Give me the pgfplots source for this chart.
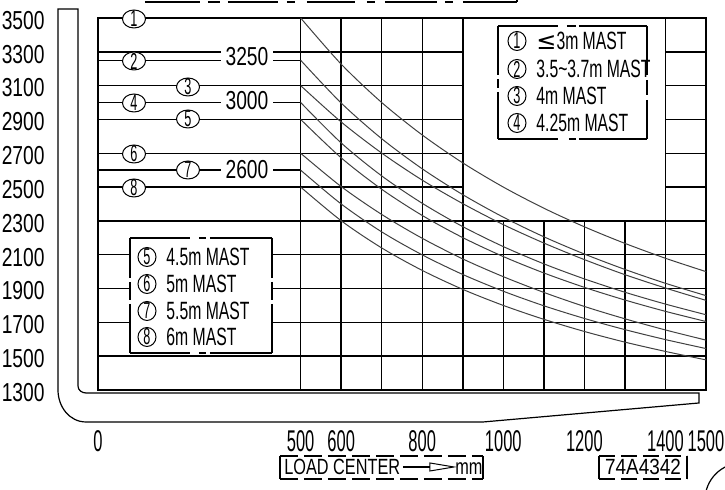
\documentclass[border=0pt]{standalone}
\usepackage{pgfplots}
\pgfplotsset{compat=1.18}
\usepackage{fontspec}
\setmainfont{Liberation Sans}
\newfontfamily\cadfont{Liberation Sans}[FakeStretch=0.63]
\newfontfamily\tickfont{Liberation Sans}[FakeStretch=0.55]
\newfontfamily\numfont{Liberation Sans}[FakeStretch=0.74]
\newfontfamily\widefont{Liberation Sans}[FakeStretch=0.86]
\newfontfamily\symfont{DejaVu Sans}
\newcommand{\df}{\tickfont\fontsize{11.5}{11.5}\selectfont}
\newcommand{\lf}{\cadfont\fontsize{12.5}{12.5}\selectfont}
\newcommand{\vf}{\numfont\fontsize{13}{13}\selectfont}
\begin{document}
\begin{tikzpicture}
\path[use as bounding box] (-49pt,-50pt) rectangle (313.5pt,195pt);
\begin{axis}[at={(0,0)}, anchor=south west, scale only axis,
  width=304pt, height=186pt,
  xmin=0, xmax=1500, ymin=1300, ymax=3500,
  xtick={0,500,600,800,1000,1200,1400,1500},
  xticklabels={0,500,600,800,1000,1200,1400,1500},
  ytick={1300,1500,1700,1900,2100,2300,2500,2700,2900,3100,3300,3500},
  yticklabels={1300,1500,1700,1900,2100,2300,2500,2700,2900,3100,3300,3500},
  major tick length=0pt,
  axis line style={line width=0.75pt},
  xticklabel style={font={\tickfont\fontsize{15}{15}\selectfont}, anchor=north, inner sep=0pt, text depth=0pt, yshift=-20pt},
  yticklabel style={font={\numfont\fontsize{13}{13}\selectfont}, anchor=east, inner sep=0pt, xshift=-26.5pt, yshift=-1.2pt},
  clip=false]
% grid
\pgfplotsinvokeforeach{3300,3100,2900,2700,2500}{
  \draw[line width=0.75pt] (0,#1) -- (900,#1);
  \draw[line width=0.75pt] (1400,#1) -- (1500,#1);
}
\pgfplotsinvokeforeach{3250,3000,2600}{
  \draw[line width=0.75pt] (0,#1) -- (500,#1);
}
\pgfplotsinvokeforeach{2300,2100,1900,1700,1500}{
  \draw[line width=0.75pt] (0,#1) -- (1500,#1);
}
\pgfplotsinvokeforeach{500,600,700,800,900,1400}{
  \draw[line width=0.75pt] (#1,1300) -- (#1,3500);
}
\pgfplotsinvokeforeach{1000,1100,1200,1300}{
  \draw[line width=0.75pt] (#1,1300) -- (#1,2300);
}
% curves
\pgfplotsset{cv/.style={smooth, no marks, line width=0.5pt, color=black!75}}
\addplot[cv] coordinates {(500,3500)(600,3227)(700,3000)(800,2808)(900,2643)(1000,2500)(1100,2375)(1200,2265)(1300,2167)(1400,2079)(1500,2000)};
\addplot[cv] coordinates {(500,3250)(600,2997)(700,2786)(800,2608)(900,2455)(1000,2322)(1100,2206)(1200,2104)(1300,2013)(1400,1931)(1500,1858)};
\addplot[cv] coordinates {(500,3100)(600,2885)(700,2701)(800,2541)(900,2402)(1000,2278)(1100,2169)(1200,2071)(1300,1982)(1400,1903)(1500,1830)};
\addplot[cv] coordinates {(500,3000)(600,2761)(700,2566)(800,2404)(900,2266)(1000,2148)(1100,2046)(1200,1957)(1300,1878)(1400,1808)(1500,1745)};
\addplot[cv] coordinates {(500,2900)(600,2673)(700,2487)(800,2332)(900,2201)(1000,2089)(1100,1992)(1200,1907)(1300,1832)(1400,1765)(1500,1705)};
\addplot[cv] coordinates {(500,2700)(600,2503)(700,2338)(800,2197)(900,2075)(1000,1970)(1100,1877)(1200,1794)(1300,1721)(1400,1655)(1500,1595)};
\addplot[cv] coordinates {(500,2600)(600,2400)(700,2235)(800,2099)(900,1983)(1000,1884)(1100,1798)(1200,1723)(1300,1657)(1400,1598)(1500,1545)};
\addplot[cv] coordinates {(500,2500)(600,2301)(700,2140)(800,2007)(900,1895)(1000,1800)(1100,1718)(1200,1646)(1300,1583)(1400,1528)(1500,1478)};
\end{axis}
% decorations in pixel coordinates
\begin{scope}[x=0.5pt, y=-0.5pt, shift={(-49pt,195pt)}]
% circled numbers on left lines
\foreach \px/\py/\t in {134/19/1,134/61/2,188/87/3,134/103/4,188/119/5,134/154/6,188/170/7,134/188/8}{
  \draw[line width=0.5pt, fill=white] (\px,\py) ellipse (11.5 and 9);
  \node[inner sep=0pt] at (\px,\py) {\df\t};
}
% value labels
\node[inner sep=0pt, fill=white, minimum width=26pt, minimum height=9pt] at (247,57) {};
\node[inner sep=0pt] at (247,57) {\vf 3250};
\node[inner sep=0pt, fill=white, minimum width=26pt, minimum height=9pt] at (247,101) {};
\node[inner sep=0pt] at (247,101) {\vf 3000};
\node[inner sep=0pt, fill=white, minimum width=26pt, minimum height=9pt] at (247,170) {};
\node[inner sep=0pt] at (247,170) {\vf 2600};
% legend box 1
\fill[white] (498,26) rectangle (647,139);
\begin{scope}[line width=0.6pt]
\draw (498,26) -- (558,26); \draw (567,26) -- (576,26); \draw (579,26) -- (647,26);
\draw (498,139) -- (558,139); \draw (569,139) -- (576,139); \draw (579,139) -- (647,139);
\draw (498,26) -- (498,75); \draw (498,79) -- (498,88); \draw (498,92) -- (498,139);
\draw (647,26) -- (647,75); \draw (647,80) -- (647,95); \draw (647,100) -- (647,139);
\end{scope}
\foreach \py/\c/\t in {41/1/{{\symfont\fontsize{12}{12}\selectfont ≤}3m MAST},69/2/3.5\textasciitilde3.7m MAST,96/3/4m MAST,123/4/4.25m MAST}{
  \draw[line width=0.5pt] (517,\py) ellipse (9 and 9.5);
  \node[inner sep=0pt] at (517,\py) {\df\c};
  \node[inner sep=0pt, anchor=west] at (536,\py) {\lf\t};
}
% legend box 2
\fill[white] (130,238) rectangle (272,353);
\begin{scope}[line width=0.6pt]
\draw (130,238) -- (190,238); \draw (199,238) -- (206,238); \draw (210,238) -- (272,238);
\draw (130,353) -- (190,353); \draw (199,353) -- (206,353); \draw (210,353) -- (272,353);
\draw (130,238) -- (130,278); \draw (130,282) -- (130,300); \draw (130,304) -- (130,353);
\draw (272,238) -- (272,278); \draw (272,282) -- (272,300); \draw (272,304) -- (272,353);
\end{scope}
\foreach \py/\c/\t in {257/5/4.5m MAST,284/6/5m MAST,311/7/5.5m MAST,337/8/6m MAST}{
  \draw[line width=0.5pt] (147,\py) ellipse (9 and 9.5);
  \node[inner sep=0pt] at (147,\py) {\df\c};
  \node[inner sep=0pt, anchor=west] at (166,\py) {\lf\t};
}
% mast and fork outline
\draw[line width=0.6pt] (58,9) -- (78,9) -- (78,386) to[out=-90,in=180] (86,393) -- (699,393) -- (699,403) -- (483,422) -- (86,422) to[out=180,in=-90] (58,390) -- cycle;
% top cut-off box edge
\foreach \a/\b in {145/200,208/220,228/278,287/295,307/355,367/375,385/437,445/453,463/517}{
  \draw[line width=0.6pt] (\a,2) -- (\b,2);
}
\draw[line width=0.6pt] (517,2) -- (517,-2);
% bottom right arc
\draw[line width=0.6pt] (742,500) circle (37);
% load center box
\draw[line width=0.6pt] (280,456) -- (280,479);
\draw[line width=0.6pt] (483,456) -- (483,479);
\draw[line width=0.6pt, dash pattern=on 9pt off 3pt] (280,456) -- (483,456);
\draw[line width=0.6pt, dash pattern=on 9pt off 3pt] (280,479) -- (483,479);
\node[inner sep=0pt, anchor=west] at (284,467) {\numfont\fontsize{11}{11}\selectfont LOAD CENTER};
\draw[line width=1.4pt] (403,467) -- (430,467);
\draw[line width=0.5pt] (430,463) -- (454,467) -- (430,471) -- cycle;
\node[inner sep=0pt, anchor=base west] at (455,475) {\numfont\fontsize{11}{11}\selectfont mm};
% drawing number box
\draw[line width=0.6pt] (599,456) -- (599,479);
\draw[line width=0.6pt] (687,456) -- (687,479);
\draw[line width=0.6pt, dash pattern=on 8pt off 3pt] (599,456) -- (687,456);
\draw[line width=0.6pt, dash pattern=on 8pt off 3pt] (599,479) -- (687,479);
\node[inner sep=0pt] at (643,467) {\widefont\fontsize{11}{11}\selectfont 74A4342};
\end{scope}
\end{tikzpicture}
\end{document}
